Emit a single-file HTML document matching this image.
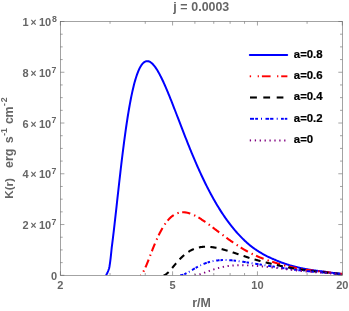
<!DOCTYPE html>
<html><head><meta charset="utf-8"><style>
html,body{margin:0;padding:0;background:#fff;}
body{width:349px;height:311px;overflow:hidden;}
svg{display:block;will-change:transform;}
svg{font-family:"Liberation Sans",sans-serif;font-weight:bold;font-size:11px;fill:#666;}
</style></head><body>
<svg width="349" height="311" viewBox="0 0 349 311">
<rect width="349" height="311" fill="#fff"/>
<defs><clipPath id="cp"><rect x="60.4" y="21.5" width="281.90000000000003" height="253.8"/></clipPath></defs>
<g clip-path="url(#cp)" fill="none" stroke-linecap="butt" stroke-linejoin="round">
<path d="M105.50 275.30 L105.98 275.11 L106.46 274.51 L107.05 273.53 L107.68 272.19 L108.35 270.50 L109.06 268.50 L109.53 266.22 L109.92 263.66 L110.29 260.86 L110.65 257.84 L111.01 254.63 L111.36 251.23 L111.72 247.67 L112.20 243.97 L112.68 240.14 L113.16 236.21 L113.64 232.18 L114.11 228.07 L114.59 223.90 L115.07 219.67 L115.55 215.40 L116.03 211.11 L116.51 206.79 L116.99 202.47 L117.46 198.14 L117.94 193.83 L118.42 189.53 L118.90 185.25 L119.38 181.01 L119.86 176.80 L120.34 172.63 L120.81 168.51 L121.29 164.45 L121.77 160.44 L122.25 156.50 L122.73 152.61 L123.21 148.80 L123.69 145.06 L124.16 141.39 L124.64 137.80 L125.12 134.29 L125.60 130.86 L126.08 127.51 L126.56 124.25 L127.04 121.07 L127.51 117.98 L127.99 114.97 L128.47 112.05 L128.95 109.22 L129.43 106.48 L129.91 103.82 L130.39 101.26 L130.86 98.78 L131.34 96.39 L131.82 94.09 L132.30 91.87 L132.78 89.74 L133.26 87.70 L133.73 85.74 L134.21 83.87 L134.69 82.08 L135.17 80.37 L135.65 78.75 L136.13 77.20 L136.61 75.74 L137.08 74.35 L137.56 73.04 L138.04 71.81 L138.52 70.65 L139.00 69.56 L139.48 68.55 L139.96 67.61 L140.43 66.74 L140.91 65.94 L141.39 65.20 L141.87 64.53 L142.35 63.93 L142.83 63.39 L143.31 62.91 L143.78 62.49 L144.26 62.13 L144.74 61.82 L145.22 61.58 L145.70 61.39 L146.18 61.25 L146.66 61.16 L147.13 61.13 L147.61 61.15 L148.09 61.21 L148.57 61.32 L149.05 61.48 L149.53 61.69 L150.01 61.93 L150.48 62.22 L150.96 62.55 L151.44 62.92 L151.92 63.33 L152.40 63.78 L152.88 64.26 L153.36 64.78 L153.83 65.33 L154.31 65.91 L154.79 66.53 L155.27 67.18 L155.75 67.86 L156.23 68.57 L156.71 69.30 L157.18 70.07 L157.66 70.85 L158.14 71.67 L158.62 72.51 L159.10 73.37 L159.58 74.25 L160.06 75.16 L160.53 76.08 L161.01 77.03 L161.49 78.00 L161.97 78.98 L162.45 79.98 L162.93 81.00 L163.41 82.03 L163.88 83.08 L164.36 84.15 L164.84 85.22 L165.32 86.32 L165.80 87.42 L166.28 88.54 L166.76 89.66 L167.23 90.80 L167.71 91.95 L168.19 93.10 L168.67 94.27 L169.15 95.45 L169.63 96.63 L170.11 97.82 L170.58 99.01 L171.06 100.22 L171.54 101.43 L172.02 102.64 L172.50 103.86 L172.98 105.08 L173.46 106.31 L173.93 107.54 L174.41 108.78 L174.89 110.01 L175.37 111.25 L175.85 112.50 L176.33 113.74 L176.81 114.99 L177.28 116.23 L177.76 117.48 L178.24 118.72 L178.72 119.97 L179.20 121.22 L179.68 122.46 L180.15 123.71 L180.63 124.95 L181.11 126.20 L181.59 127.44 L182.07 128.68 L182.55 129.92 L183.03 131.15 L183.50 132.38 L183.98 133.61 L184.46 134.84 L184.94 136.06 L185.42 137.28 L185.90 138.50 L186.38 139.71 L186.85 140.92 L187.33 142.12 L187.81 143.32 L188.29 144.52 L188.77 145.71 L189.25 146.90 L189.73 148.08 L190.20 149.26 L190.68 150.43 L191.16 151.59 L191.64 152.76 L192.12 153.91 L192.60 155.06 L193.08 156.20 L193.55 157.34 L194.03 158.48 L194.51 159.60 L194.99 160.72 L195.47 161.84 L195.95 162.94 L196.43 164.05 L196.90 165.14 L197.38 166.23 L197.86 167.31 L198.34 168.39 L198.82 169.46 L199.30 170.52 L199.78 171.58 L200.25 172.63 L200.73 173.67 L201.21 174.71 L201.69 175.73 L202.17 176.76 L202.65 177.77 L203.13 178.78 L203.60 179.78 L204.08 180.78 L204.56 181.76 L205.04 182.74 L205.52 183.72 L206.00 184.68 L206.48 185.64 L206.95 186.59 L207.43 187.54 L207.91 188.47 L208.39 189.40 L208.87 190.33 L209.35 191.24 L209.83 192.15 L210.30 193.06 L210.78 193.95 L211.26 194.84 L211.74 195.72 L212.22 196.59 L212.70 197.46 L213.18 198.32 L213.65 199.17 L214.13 200.02 L214.61 200.85 L215.09 201.69 L215.57 202.51 L216.05 203.33 L216.53 204.14 L217.00 204.94 L217.48 205.74 L217.96 206.53 L218.44 207.31 L218.92 208.09 L219.40 208.86 L219.88 209.62 L220.35 210.37 L220.83 211.12 L221.31 211.87 L221.79 212.60 L222.27 213.33 L222.75 214.05 L223.23 214.77 L223.70 215.48 L224.18 216.18 L224.66 216.87 L225.14 217.56 L225.62 218.25 L226.10 218.92 L226.57 219.59 L227.05 220.26 L227.53 220.92 L228.01 221.57 L228.49 222.21 L228.97 222.85 L229.45 223.48 L229.92 224.11 L230.40 224.73 L230.88 225.35 L231.36 225.95 L231.84 226.56 L232.32 227.15 L232.80 227.74 L233.27 228.33 L233.75 228.91 L234.23 229.48 L234.71 230.05 L235.19 230.61 L235.67 231.17 L236.15 231.72 L236.62 232.26 L237.10 232.80 L237.58 233.34 L238.06 233.86 L238.54 234.39 L239.02 234.90 L239.50 235.42 L239.97 235.92 L240.45 236.42 L240.93 236.92 L241.41 237.41 L241.89 237.90 L242.37 238.38 L242.85 238.85 L243.32 239.32 L243.80 239.79 L244.28 240.25 L244.76 240.71 L245.24 241.16 L245.72 241.60 L246.20 242.04 L246.67 242.48 L247.15 242.91 L247.63 243.34 L248.11 243.76 L248.59 244.18 L249.07 244.59 L249.55 245.00 L250.02 245.40 L250.50 245.78 L250.98 246.15 L251.46 246.51 L251.94 246.87 L252.42 247.23 L252.90 247.58 L253.37 247.93 L253.85 248.27 L254.33 248.61 L254.81 248.95 L255.29 249.28 L255.77 249.61 L256.25 249.93 L256.72 250.25 L257.20 250.57 L257.68 250.88 L258.16 251.19 L258.64 251.49 L259.12 251.79 L259.60 252.09 L260.07 252.38 L260.55 252.67 L261.03 252.95 L261.51 253.23 L261.99 253.51 L262.47 253.79 L262.95 254.06 L263.42 254.32 L263.90 254.59 L264.38 254.85 L264.86 255.10 L265.34 255.36 L265.82 255.61 L266.30 255.85 L266.77 256.10 L267.25 256.34 L267.73 256.57 L268.21 256.81 L268.69 257.04 L269.17 257.26 L269.65 257.49 L270.12 257.71 L270.60 257.93 L271.08 258.14 L271.56 258.36 L272.04 258.56 L272.52 258.77 L273.00 258.97 L273.47 259.17 L273.95 259.37 L274.43 259.57 L274.91 259.76 L275.39 259.97 L275.87 260.18 L276.34 260.39 L276.82 260.59 L277.30 260.80 L277.78 261.00 L278.26 261.20 L278.74 261.39 L279.22 261.58 L279.69 261.77 L280.17 261.96 L280.65 262.15 L281.13 262.33 L281.61 262.51 L282.09 262.69 L282.57 262.87 L283.04 263.04 L283.52 263.21 L284.00 263.38 L284.48 263.55 L284.96 263.71 L285.44 263.87 L285.92 264.03 L286.39 264.19 L286.87 264.35 L287.35 264.50 L287.83 264.65 L288.31 264.80 L288.79 264.95 L289.27 265.09 L289.74 265.24 L290.22 265.38 L290.70 265.52 L291.18 265.66 L291.66 265.79 L292.14 265.93 L292.62 266.06 L293.09 266.19 L293.57 266.32 L294.05 266.44 L294.53 266.57 L295.01 266.69 L295.49 266.81 L295.97 266.93 L296.44 267.05 L296.92 267.17 L297.40 267.28 L297.88 267.39 L298.36 267.50 L298.84 267.61 L299.32 267.72 L299.79 267.83 L300.27 267.93 L300.75 268.04 L301.23 268.14 L301.71 268.24 L302.19 268.34 L302.67 268.43 L303.14 268.53 L303.62 268.63 L304.10 268.72 L304.58 268.81 L305.06 268.90 L305.54 268.99 L306.02 269.08 L306.49 269.16 L306.97 269.25 L307.45 269.33 L307.93 269.41 L308.41 269.50 L308.89 269.58 L309.37 269.65 L309.84 269.73 L310.32 269.81 L310.80 269.88 L311.28 269.96 L311.76 270.03 L312.24 270.10 L312.72 270.17 L313.19 270.24 L313.67 270.31 L314.15 270.38 L314.63 270.44 L315.11 270.51 L315.59 270.57 L316.07 270.64 L316.54 270.70 L317.02 270.76 L317.50 270.82 L317.98 270.88 L318.46 270.94 L318.94 271.00 L319.42 271.05 L319.89 271.11 L320.37 271.16 L320.85 271.22 L321.33 271.27 L321.81 271.32 L322.29 271.37 L322.76 271.42 L323.24 271.49 L323.72 271.56 L324.20 271.64 L324.68 271.71 L325.16 271.79 L325.64 271.86 L326.11 271.93 L326.59 272.01 L327.07 272.08 L327.55 272.15 L328.03 272.22 L328.51 272.29 L328.99 272.36 L329.46 272.42 L329.94 272.49 L330.42 272.56 L330.90 272.62 L331.38 272.69 L331.86 272.75 L332.34 272.82 L332.81 272.88 L333.29 272.94 L333.77 273.01 L334.25 273.07 L334.73 273.13 L335.21 273.19 L335.69 273.25 L336.16 273.31 L336.64 273.37 L337.12 273.42 L337.60 273.48 L338.08 273.54 L338.56 273.60 L339.04 273.65 L339.51 273.71 L339.99 273.76 L340.47 273.82 L340.95 273.87 L341.43 273.92 L341.91 273.96 L342.39 273.99 L342.86 274.01 L343.34 274.04 L343.82 274.06 L344.30 274.08" stroke="#0000ff" stroke-width="2"/>
<path d="M140.30 275.30 L140.71 275.17 L141.12 274.89 L141.53 274.49 L141.94 274.00 L142.34 273.44 L142.75 272.80 L143.16 272.11 L143.57 271.36 L143.98 270.56 L144.39 269.73 L144.80 268.86 L145.21 267.95 L145.61 267.02 L146.02 266.07 L146.43 265.09 L146.84 264.10 L147.25 263.09 L147.66 262.06 L148.07 261.03 L148.48 259.99 L148.89 258.94 L149.29 257.88 L149.70 256.83 L150.11 255.77 L150.52 254.72 L150.93 253.66 L151.34 252.61 L151.75 251.56 L152.16 250.52 L152.56 249.49 L152.97 248.46 L153.38 247.44 L153.79 246.43 L154.20 245.43 L154.61 244.44 L155.02 243.46 L155.43 242.49 L155.84 241.54 L156.24 240.59 L156.65 239.66 L157.06 238.75 L157.47 237.85 L157.88 236.96 L158.29 236.09 L158.70 235.24 L159.11 234.40 L159.51 233.57 L159.92 232.76 L160.33 231.97 L160.74 231.20 L161.15 230.44 L161.56 229.69 L161.97 228.97 L162.38 228.26 L162.79 227.56 L163.19 226.89 L163.60 226.23 L164.01 225.58 L164.42 224.96 L164.83 224.35 L165.24 223.75 L165.65 223.18 L166.06 222.62 L166.46 222.07 L166.87 221.54 L167.28 221.03 L167.69 220.54 L168.10 220.06 L168.51 219.60 L168.92 219.15 L169.33 218.72 L169.73 218.30 L170.14 217.90 L170.55 217.52 L170.96 217.15 L171.37 216.80 L171.78 216.46 L172.19 216.13 L172.60 215.82 L173.01 215.53 L173.41 215.24 L173.82 214.98 L174.23 214.72 L174.64 214.48 L175.05 214.25 L175.46 214.04 L175.87 213.84 L176.28 213.65 L176.68 213.48 L177.09 213.31 L177.50 213.16 L177.91 213.02 L178.32 212.90 L178.73 212.78 L179.14 212.68 L179.55 212.59 L179.96 212.51 L180.36 212.44 L180.77 212.38 L181.18 212.33 L181.59 212.29 L182.00 212.26 L182.41 212.25 L182.82 212.24 L183.23 212.24 L183.63 212.25 L184.04 212.27 L184.45 212.30 L184.86 212.34 L185.27 212.38 L185.68 212.44 L186.09 212.50 L186.50 212.58 L186.91 212.66 L187.31 212.74 L187.72 212.84 L188.13 212.94 L188.54 213.05 L188.95 213.17 L189.36 213.29 L189.77 213.42 L190.18 213.56 L190.58 213.70 L190.99 213.85 L191.40 214.01 L191.81 214.17 L192.22 214.34 L192.63 214.52 L193.04 214.70 L193.45 214.88 L193.86 215.07 L194.26 215.27 L194.67 215.47 L195.08 215.67 L195.49 215.88 L195.90 216.10 L196.31 216.32 L196.72 216.54 L197.13 216.77 L197.53 217.00 L197.94 217.23 L198.35 217.47 L198.76 217.71 L199.17 217.96 L199.58 218.21 L199.99 218.46 L200.40 218.72 L200.81 218.98 L201.21 219.24 L201.62 219.51 L202.03 219.78 L202.44 220.05 L202.85 220.32 L203.26 220.60 L203.67 220.87 L204.08 221.16 L204.48 221.44 L204.89 221.72 L205.30 222.01 L205.71 222.30 L206.12 222.59 L206.53 222.88 L206.94 223.17 L207.35 223.47 L207.75 223.77 L208.16 224.06 L208.57 224.36 L208.98 224.67 L209.39 224.97 L209.80 225.27 L210.21 225.57 L210.62 225.88 L211.03 226.18 L211.43 226.49 L211.84 226.80 L212.25 227.11 L212.66 227.41 L213.07 227.72 L213.48 228.03 L213.89 228.34 L214.30 228.65 L214.70 228.96 L215.11 229.27 L215.52 229.58 L215.93 229.90 L216.34 230.21 L216.75 230.52 L217.16 230.83 L217.57 231.14 L217.98 231.45 L218.38 231.76 L218.79 232.07 L219.20 232.38 L219.61 232.69 L220.02 233.00 L220.43 233.31 L220.84 233.62 L221.25 233.93 L221.65 234.23 L222.06 234.54 L222.47 234.85 L222.88 235.15 L223.29 235.46 L223.70 235.76 L224.11 236.07 L224.52 236.37 L224.93 236.67 L225.33 236.97 L225.74 237.27 L226.15 237.57 L226.56 237.87 L226.97 238.17 L227.38 238.46 L227.79 238.76 L228.20 239.05 L228.60 239.35 L229.01 239.64 L229.42 239.93 L229.83 240.22 L230.24 240.51 L230.65 240.80 L231.06 241.09 L231.47 241.37 L231.88 241.66 L232.28 241.94 L232.69 242.22 L233.10 242.50 L233.51 242.78 L233.92 243.06 L234.33 243.34 L234.74 243.61 L235.15 243.89 L235.55 244.16 L235.96 244.43 L236.37 244.70 L236.78 244.97 L237.19 245.24 L237.60 245.50 L238.01 245.77 L238.42 246.03 L238.83 246.29 L239.23 246.55 L239.64 246.81 L240.05 247.07 L240.46 247.32 L240.87 247.58 L241.28 247.83 L241.69 248.08 L242.10 248.33 L242.50 248.58 L242.91 248.83 L243.32 249.07 L243.73 249.31 L244.14 249.56 L244.55 249.80 L244.96 250.04 L245.37 250.27 L245.77 250.51 L246.18 250.74 L246.59 250.98 L247.00 251.21 L247.41 251.44 L247.82 251.67 L248.23 251.89 L248.64 252.12 L249.05 252.34 L249.45 252.57 L249.86 252.79 L250.27 253.00 L250.68 253.20 L251.09 253.40 L251.50 253.60 L251.91 253.80 L252.32 253.99 L252.72 254.19 L253.13 254.38 L253.54 254.58 L253.95 254.77 L254.36 254.96 L254.77 255.14 L255.18 255.33 L255.59 255.51 L256.00 255.70 L256.40 255.88 L256.81 256.06 L257.22 256.24 L257.63 256.41 L258.04 256.59 L258.45 256.76 L258.86 256.94 L259.27 257.11 L259.67 257.28 L260.08 257.44 L260.49 257.61 L260.90 257.78 L261.31 257.94 L261.72 258.10 L262.13 258.26 L262.54 258.42 L262.95 258.58 L263.35 258.74 L263.76 258.89 L264.17 259.05 L264.58 259.20 L264.99 259.35 L265.40 259.50 L265.81 259.65 L266.22 259.79 L266.62 259.94 L267.03 260.08 L267.44 260.23 L267.85 260.37 L268.26 260.51 L268.67 260.65 L269.08 260.78 L269.49 260.92 L269.90 261.05 L270.30 261.19 L270.71 261.32 L271.12 261.45 L271.53 261.58 L271.94 261.71 L272.35 261.83 L272.76 261.96 L273.17 262.08 L273.57 262.21 L273.98 262.33 L274.39 262.45 L274.80 262.57 L275.21 262.69 L275.62 262.82 L276.03 262.95 L276.44 263.08 L276.85 263.21 L277.25 263.34 L277.66 263.46 L278.07 263.59 L278.48 263.71 L278.89 263.83 L279.30 263.95 L279.71 264.07 L280.12 264.19 L280.52 264.31 L280.93 264.43 L281.34 264.54 L281.75 264.66 L282.16 264.77 L282.57 264.88 L282.98 264.99 L283.39 265.10 L283.80 265.21 L284.20 265.32 L284.61 265.42 L285.02 265.53 L285.43 265.63 L285.84 265.74 L286.25 265.84 L286.66 265.94 L287.07 266.04 L287.47 266.14 L287.88 266.24 L288.29 266.34 L288.70 266.43 L289.11 266.53 L289.52 266.62 L289.93 266.72 L290.34 266.81 L290.74 266.90 L291.15 266.99 L291.56 267.08 L291.97 267.17 L292.38 267.26 L292.79 267.35 L293.20 267.43 L293.61 267.52 L294.02 267.60 L294.42 267.68 L294.83 267.77 L295.24 267.85 L295.65 267.93 L296.06 268.01 L296.47 268.09 L296.88 268.17 L297.29 268.24 L297.69 268.32 L298.10 268.40 L298.51 268.47 L298.92 268.55 L299.33 268.62 L299.74 268.69 L300.15 268.76 L300.56 268.84 L300.97 268.91 L301.37 268.98 L301.78 269.04 L302.19 269.11 L302.60 269.18 L303.01 269.25 L303.42 269.31 L303.83 269.38 L304.24 269.44 L304.64 269.51 L305.05 269.57 L305.46 269.63 L305.87 269.69 L306.28 269.75 L306.69 269.81 L307.10 269.87 L307.51 269.93 L307.92 269.99 L308.32 270.05 L308.73 270.10 L309.14 270.16 L309.55 270.22 L309.96 270.27 L310.37 270.33 L310.78 270.38 L311.19 270.43 L311.59 270.49 L312.00 270.54 L312.41 270.59 L312.82 270.64 L313.23 270.69 L313.64 270.74 L314.05 270.79 L314.46 270.84 L314.87 270.88 L315.27 270.93 L315.68 270.98 L316.09 271.03 L316.50 271.07 L316.91 271.12 L317.32 271.16 L317.73 271.20 L318.14 271.25 L318.54 271.29 L318.95 271.33 L319.36 271.38 L319.77 271.42 L320.18 271.46 L320.59 271.50 L321.00 271.54 L321.41 271.58 L321.82 271.62 L322.22 271.66 L322.63 271.69 L323.04 271.73 L323.45 271.79 L323.86 271.84 L324.27 271.89 L324.68 271.95 L325.09 272.00 L325.49 272.05 L325.90 272.10 L326.31 272.15 L326.72 272.20 L327.13 272.25 L327.54 272.30 L327.95 272.35 L328.36 272.40 L328.76 272.45 L329.17 272.50 L329.58 272.55 L329.99 272.59 L330.40 272.64 L330.81 272.69 L331.22 272.73 L331.63 272.78 L332.04 272.82 L332.44 272.87 L332.85 272.91 L333.26 272.96 L333.67 273.00 L334.08 273.04 L334.49 273.09 L334.90 273.13 L335.31 273.17 L335.71 273.22 L336.12 273.26 L336.53 273.30 L336.94 273.34 L337.35 273.38 L337.76 273.42 L338.17 273.46 L338.58 273.50 L338.99 273.54 L339.39 273.58 L339.80 273.62 L340.21 273.66 L340.62 273.70 L341.03 273.74 L341.44 273.77 L341.85 273.81 L342.26 273.83 L342.66 273.85 L343.07 273.87 L343.48 273.89 L343.89 273.91 L344.30 273.93" stroke="#ff0000" stroke-width="2.1" stroke-dasharray="1.4 3.5 8.3 4.1" stroke-dashoffset="12.5"/>
<path d="M163.50 275.30 L163.86 275.27 L164.22 275.18 L164.59 275.06 L164.95 274.90 L165.31 274.71 L165.67 274.49 L166.04 274.25 L166.40 273.98 L166.76 273.69 L167.12 273.39 L167.49 273.07 L167.85 272.73 L168.21 272.38 L168.57 272.02 L168.93 271.64 L169.30 271.26 L169.66 270.87 L170.02 270.46 L170.38 270.06 L170.75 269.64 L171.11 269.23 L171.47 268.80 L171.83 268.38 L172.20 267.95 L172.56 267.52 L172.92 267.09 L173.28 266.66 L173.65 266.22 L174.01 265.79 L174.37 265.36 L174.73 264.93 L175.09 264.50 L175.46 264.07 L175.82 263.64 L176.18 263.22 L176.54 262.80 L176.91 262.39 L177.27 261.97 L177.63 261.56 L177.99 261.16 L178.36 260.76 L178.72 260.36 L179.08 259.97 L179.44 259.59 L179.80 259.20 L180.17 258.83 L180.53 258.46 L180.89 258.09 L181.25 257.73 L181.62 257.38 L181.98 257.03 L182.34 256.69 L182.70 256.35 L183.07 256.02 L183.43 255.70 L183.79 255.38 L184.15 255.07 L184.51 254.76 L184.88 254.46 L185.24 254.17 L185.60 253.88 L185.96 253.60 L186.33 253.32 L186.69 253.06 L187.05 252.79 L187.41 252.54 L187.78 252.29 L188.14 252.04 L188.50 251.81 L188.86 251.57 L189.23 251.35 L189.59 251.13 L189.95 250.92 L190.31 250.71 L190.67 250.51 L191.04 250.31 L191.40 250.13 L191.76 249.94 L192.12 249.77 L192.49 249.59 L192.85 249.43 L193.21 249.27 L193.57 249.11 L193.94 248.96 L194.30 248.82 L194.66 248.68 L195.02 248.55 L195.38 248.42 L195.75 248.30 L196.11 248.18 L196.47 248.07 L196.83 247.96 L197.20 247.86 L197.56 247.76 L197.92 247.67 L198.28 247.58 L198.65 247.50 L199.01 247.42 L199.37 247.35 L199.73 247.28 L200.09 247.21 L200.46 247.15 L200.82 247.10 L201.18 247.04 L201.54 247.00 L201.91 246.95 L202.27 246.91 L202.63 246.88 L202.99 246.85 L203.36 246.82 L203.72 246.80 L204.08 246.78 L204.44 246.76 L204.81 246.75 L205.17 246.74 L205.53 246.73 L205.89 246.73 L206.25 246.73 L206.62 246.73 L206.98 246.74 L207.34 246.75 L207.70 246.76 L208.07 246.78 L208.43 246.80 L208.79 246.82 L209.15 246.85 L209.52 246.88 L209.88 246.91 L210.24 246.94 L210.60 246.98 L210.96 247.02 L211.33 247.06 L211.69 247.10 L212.05 247.15 L212.41 247.20 L212.78 247.25 L213.14 247.30 L213.50 247.36 L213.86 247.41 L214.23 247.47 L214.59 247.54 L214.95 247.60 L215.31 247.66 L215.67 247.73 L216.04 247.80 L216.40 247.87 L216.76 247.95 L217.12 248.02 L217.49 248.10 L217.85 248.18 L218.21 248.26 L218.57 248.34 L218.94 248.42 L219.30 248.51 L219.66 248.59 L220.02 248.68 L220.39 248.77 L220.75 248.86 L221.11 248.95 L221.47 249.05 L221.83 249.14 L222.20 249.24 L222.56 249.33 L222.92 249.43 L223.28 249.53 L223.65 249.63 L224.01 249.73 L224.37 249.83 L224.73 249.93 L225.10 250.04 L225.46 250.14 L225.82 250.25 L226.18 250.36 L226.54 250.46 L226.91 250.57 L227.27 250.68 L227.63 250.79 L227.99 250.90 L228.36 251.01 L228.72 251.12 L229.08 251.24 L229.44 251.35 L229.81 251.46 L230.17 251.58 L230.53 251.69 L230.89 251.81 L231.25 251.92 L231.62 252.04 L231.98 252.15 L232.34 252.27 L232.70 252.39 L233.07 252.51 L233.43 252.62 L233.79 252.74 L234.15 252.86 L234.52 252.98 L234.88 253.10 L235.24 253.22 L235.60 253.34 L235.96 253.46 L236.33 253.58 L236.69 253.70 L237.05 253.82 L237.41 253.94 L237.78 254.06 L238.14 254.18 L238.50 254.30 L238.86 254.42 L239.23 254.55 L239.59 254.67 L239.95 254.79 L240.31 254.91 L240.68 255.03 L241.04 255.15 L241.40 255.27 L241.76 255.39 L242.12 255.52 L242.49 255.64 L242.85 255.76 L243.21 255.88 L243.57 256.00 L243.94 256.12 L244.30 256.24 L244.66 256.36 L245.02 256.48 L245.39 256.60 L245.75 256.72 L246.11 256.84 L246.47 256.96 L246.83 257.08 L247.20 257.20 L247.56 257.32 L247.92 257.44 L248.28 257.56 L248.65 257.68 L249.01 257.80 L249.37 257.91 L249.73 258.03 L250.10 258.15 L250.46 258.25 L250.82 258.36 L251.18 258.47 L251.54 258.57 L251.91 258.68 L252.27 258.78 L252.63 258.89 L252.99 258.99 L253.36 259.10 L253.72 259.20 L254.08 259.31 L254.44 259.41 L254.81 259.51 L255.17 259.62 L255.53 259.72 L255.89 259.82 L256.26 259.92 L256.62 260.02 L256.98 260.12 L257.34 260.23 L257.70 260.33 L258.07 260.43 L258.43 260.52 L258.79 260.62 L259.15 260.72 L259.52 260.82 L259.88 260.92 L260.24 261.02 L260.60 261.11 L260.97 261.21 L261.33 261.30 L261.69 261.40 L262.05 261.49 L262.41 261.59 L262.78 261.68 L263.14 261.78 L263.50 261.87 L263.86 261.96 L264.23 262.06 L264.59 262.15 L264.95 262.24 L265.31 262.33 L265.68 262.42 L266.04 262.51 L266.40 262.60 L266.76 262.69 L267.12 262.78 L267.49 262.87 L267.85 262.95 L268.21 263.04 L268.57 263.13 L268.94 263.21 L269.30 263.30 L269.66 263.38 L270.02 263.47 L270.39 263.55 L270.75 263.64 L271.11 263.72 L271.47 263.80 L271.84 263.89 L272.20 263.97 L272.56 264.05 L272.92 264.13 L273.28 264.21 L273.65 264.29 L274.01 264.37 L274.37 264.45 L274.73 264.53 L275.10 264.61 L275.46 264.69 L275.82 264.78 L276.18 264.87 L276.55 264.95 L276.91 265.04 L277.27 265.12 L277.63 265.21 L277.99 265.29 L278.36 265.38 L278.72 265.46 L279.08 265.54 L279.44 265.62 L279.81 265.70 L280.17 265.78 L280.53 265.87 L280.89 265.95 L281.26 266.02 L281.62 266.10 L281.98 266.18 L282.34 266.26 L282.70 266.34 L283.07 266.41 L283.43 266.49 L283.79 266.57 L284.15 266.64 L284.52 266.72 L284.88 266.79 L285.24 266.87 L285.60 266.94 L285.97 267.01 L286.33 267.08 L286.69 267.16 L287.05 267.23 L287.42 267.30 L287.78 267.37 L288.14 267.44 L288.50 267.51 L288.86 267.58 L289.23 267.65 L289.59 267.71 L289.95 267.78 L290.31 267.85 L290.68 267.92 L291.04 267.98 L291.40 268.05 L291.76 268.11 L292.13 268.18 L292.49 268.24 L292.85 268.31 L293.21 268.37 L293.57 268.43 L293.94 268.50 L294.30 268.56 L294.66 268.62 L295.02 268.68 L295.39 268.74 L295.75 268.80 L296.11 268.86 L296.47 268.92 L296.84 268.98 L297.20 269.04 L297.56 269.10 L297.92 269.15 L298.28 269.21 L298.65 269.27 L299.01 269.32 L299.37 269.38 L299.73 269.43 L300.10 269.49 L300.46 269.54 L300.82 269.60 L301.18 269.65 L301.55 269.70 L301.91 269.76 L302.27 269.81 L302.63 269.86 L303.00 269.91 L303.36 269.96 L303.72 270.01 L304.08 270.06 L304.44 270.11 L304.81 270.16 L305.17 270.21 L305.53 270.26 L305.89 270.31 L306.26 270.36 L306.62 270.40 L306.98 270.45 L307.34 270.50 L307.71 270.54 L308.07 270.59 L308.43 270.63 L308.79 270.68 L309.15 270.72 L309.52 270.77 L309.88 270.81 L310.24 270.85 L310.60 270.90 L310.97 270.94 L311.33 270.98 L311.69 271.02 L312.05 271.07 L312.42 271.11 L312.78 271.15 L313.14 271.19 L313.50 271.23 L313.86 271.27 L314.23 271.31 L314.59 271.35 L314.95 271.38 L315.31 271.42 L315.68 271.46 L316.04 271.50 L316.40 271.53 L316.76 271.57 L317.13 271.61 L317.49 271.64 L317.85 271.68 L318.21 271.72 L318.57 271.75 L318.94 271.79 L319.30 271.82 L319.66 271.85 L320.02 271.89 L320.39 271.92 L320.75 271.95 L321.11 271.99 L321.47 272.02 L321.84 272.05 L322.20 272.08 L322.56 272.12 L322.92 272.15 L323.29 272.19 L323.65 272.23 L324.01 272.27 L324.37 272.31 L324.73 272.35 L325.10 272.39 L325.46 272.43 L325.82 272.48 L326.18 272.52 L326.55 272.55 L326.91 272.59 L327.27 272.63 L327.63 272.67 L328.00 272.71 L328.36 272.75 L328.72 272.79 L329.08 272.83 L329.44 272.86 L329.81 272.90 L330.17 272.94 L330.53 272.97 L330.89 273.01 L331.26 273.05 L331.62 273.08 L331.98 273.12 L332.34 273.15 L332.71 273.19 L333.07 273.22 L333.43 273.26 L333.79 273.29 L334.15 273.33 L334.52 273.36 L334.88 273.39 L335.24 273.43 L335.60 273.46 L335.97 273.49 L336.33 273.53 L336.69 273.56 L337.05 273.59 L337.42 273.62 L337.78 273.65 L338.14 273.68 L338.50 273.72 L338.87 273.75 L339.23 273.78 L339.59 273.81 L339.95 273.84 L340.31 273.87 L340.68 273.90 L341.04 273.93 L341.40 273.96 L341.76 273.98 L342.13 274.00 L342.49 274.02 L342.85 274.04 L343.21 274.05 L343.58 274.07 L343.94 274.09 L344.30 274.10" stroke="#000" stroke-width="2.1" stroke-dasharray="6.2 5.3"/>
<path d="M180.10 275.30 L180.43 275.29 L180.76 275.26 L181.09 275.22 L181.42 275.16 L181.75 275.10 L182.07 275.02 L182.40 274.93 L182.73 274.83 L183.06 274.72 L183.39 274.60 L183.72 274.48 L184.05 274.35 L184.38 274.21 L184.71 274.06 L185.04 273.91 L185.37 273.76 L185.69 273.60 L186.02 273.43 L186.35 273.27 L186.68 273.09 L187.01 272.92 L187.34 272.74 L187.67 272.56 L188.00 272.37 L188.33 272.19 L188.66 272.00 L188.98 271.81 L189.31 271.62 L189.64 271.42 L189.97 271.23 L190.30 271.03 L190.63 270.84 L190.96 270.64 L191.29 270.45 L191.62 270.25 L191.95 270.05 L192.28 269.86 L192.60 269.66 L192.93 269.47 L193.26 269.27 L193.59 269.08 L193.92 268.88 L194.25 268.69 L194.58 268.50 L194.91 268.31 L195.24 268.12 L195.57 267.94 L195.89 267.75 L196.22 267.57 L196.55 267.38 L196.88 267.20 L197.21 267.02 L197.54 266.85 L197.87 266.67 L198.20 266.50 L198.53 266.33 L198.86 266.16 L199.19 265.99 L199.51 265.83 L199.84 265.66 L200.17 265.50 L200.50 265.34 L200.83 265.19 L201.16 265.03 L201.49 264.88 L201.82 264.73 L202.15 264.59 L202.48 264.44 L202.81 264.30 L203.13 264.16 L203.46 264.03 L203.79 263.89 L204.12 263.76 L204.45 263.63 L204.78 263.50 L205.11 263.38 L205.44 263.26 L205.77 263.14 L206.10 263.02 L206.42 262.91 L206.75 262.79 L207.08 262.68 L207.41 262.58 L207.74 262.47 L208.07 262.37 L208.40 262.27 L208.73 262.17 L209.06 262.08 L209.39 261.99 L209.72 261.90 L210.04 261.81 L210.37 261.72 L210.70 261.64 L211.03 261.56 L211.36 261.48 L211.69 261.41 L212.02 261.33 L212.35 261.26 L212.68 261.19 L213.01 261.13 L213.33 261.06 L213.66 261.00 L213.99 260.94 L214.32 260.88 L214.65 260.83 L214.98 260.77 L215.31 260.72 L215.64 260.67 L215.97 260.63 L216.30 260.58 L216.63 260.54 L216.95 260.50 L217.28 260.46 L217.61 260.42 L217.94 260.39 L218.27 260.35 L218.60 260.32 L218.93 260.29 L219.26 260.26 L219.59 260.24 L219.92 260.21 L220.25 260.19 L220.57 260.17 L220.90 260.15 L221.23 260.14 L221.56 260.12 L221.89 260.11 L222.22 260.09 L222.55 260.08 L222.88 260.08 L223.21 260.07 L223.54 260.06 L223.86 260.06 L224.19 260.06 L224.52 260.06 L224.85 260.06 L225.18 260.06 L225.51 260.06 L225.84 260.07 L226.17 260.07 L226.50 260.08 L226.83 260.09 L227.16 260.10 L227.48 260.11 L227.81 260.12 L228.14 260.14 L228.47 260.15 L228.80 260.17 L229.13 260.18 L229.46 260.20 L229.79 260.22 L230.12 260.24 L230.45 260.27 L230.78 260.29 L231.10 260.31 L231.43 260.34 L231.76 260.36 L232.09 260.39 L232.42 260.42 L232.75 260.45 L233.08 260.48 L233.41 260.51 L233.74 260.54 L234.07 260.57 L234.39 260.61 L234.72 260.64 L235.05 260.68 L235.38 260.71 L235.71 260.75 L236.04 260.79 L236.37 260.83 L236.70 260.87 L237.03 260.91 L237.36 260.95 L237.69 260.99 L238.01 261.03 L238.34 261.07 L238.67 261.12 L239.00 261.16 L239.33 261.21 L239.66 261.25 L239.99 261.30 L240.32 261.34 L240.65 261.39 L240.98 261.44 L241.30 261.49 L241.63 261.54 L241.96 261.59 L242.29 261.63 L242.62 261.69 L242.95 261.74 L243.28 261.79 L243.61 261.84 L243.94 261.89 L244.27 261.94 L244.60 262.00 L244.92 262.05 L245.25 262.10 L245.58 262.16 L245.91 262.21 L246.24 262.26 L246.57 262.32 L246.90 262.38 L247.23 262.43 L247.56 262.49 L247.89 262.54 L248.22 262.60 L248.54 262.66 L248.87 262.71 L249.20 262.77 L249.53 262.83 L249.86 262.88 L250.19 262.94 L250.52 262.99 L250.85 263.04 L251.18 263.09 L251.51 263.14 L251.83 263.19 L252.16 263.24 L252.49 263.29 L252.82 263.34 L253.15 263.40 L253.48 263.45 L253.81 263.50 L254.14 263.55 L254.47 263.60 L254.80 263.66 L255.13 263.71 L255.45 263.76 L255.78 263.81 L256.11 263.86 L256.44 263.92 L256.77 263.97 L257.10 264.02 L257.43 264.07 L257.76 264.13 L258.09 264.18 L258.42 264.23 L258.74 264.28 L259.07 264.34 L259.40 264.39 L259.73 264.44 L260.06 264.49 L260.39 264.55 L260.72 264.60 L261.05 264.65 L261.38 264.71 L261.71 264.76 L262.04 264.81 L262.36 264.86 L262.69 264.91 L263.02 264.97 L263.35 265.02 L263.68 265.07 L264.01 265.12 L264.34 265.17 L264.67 265.23 L265.00 265.28 L265.33 265.33 L265.66 265.38 L265.98 265.43 L266.31 265.48 L266.64 265.54 L266.97 265.59 L267.30 265.64 L267.63 265.69 L267.96 265.74 L268.29 265.79 L268.62 265.84 L268.95 265.89 L269.27 265.94 L269.60 265.99 L269.93 266.04 L270.26 266.09 L270.59 266.14 L270.92 266.19 L271.25 266.24 L271.58 266.29 L271.91 266.34 L272.24 266.39 L272.57 266.43 L272.89 266.48 L273.22 266.53 L273.55 266.58 L273.88 266.63 L274.21 266.68 L274.54 266.72 L274.87 266.77 L275.20 266.82 L275.53 266.88 L275.86 266.93 L276.19 266.99 L276.51 267.04 L276.84 267.10 L277.17 267.15 L277.50 267.20 L277.83 267.26 L278.16 267.31 L278.49 267.36 L278.82 267.42 L279.15 267.47 L279.48 267.52 L279.80 267.57 L280.13 267.63 L280.46 267.68 L280.79 267.73 L281.12 267.78 L281.45 267.83 L281.78 267.88 L282.11 267.93 L282.44 267.98 L282.77 268.03 L283.10 268.08 L283.42 268.13 L283.75 268.18 L284.08 268.23 L284.41 268.28 L284.74 268.33 L285.07 268.38 L285.40 268.43 L285.73 268.48 L286.06 268.52 L286.39 268.57 L286.71 268.62 L287.04 268.67 L287.37 268.71 L287.70 268.76 L288.03 268.81 L288.36 268.85 L288.69 268.90 L289.02 268.95 L289.35 268.99 L289.68 269.04 L290.01 269.08 L290.33 269.13 L290.66 269.17 L290.99 269.22 L291.32 269.26 L291.65 269.30 L291.98 269.35 L292.31 269.39 L292.64 269.44 L292.97 269.48 L293.30 269.52 L293.63 269.56 L293.95 269.61 L294.28 269.65 L294.61 269.69 L294.94 269.73 L295.27 269.77 L295.60 269.81 L295.93 269.85 L296.26 269.90 L296.59 269.94 L296.92 269.98 L297.24 270.02 L297.57 270.06 L297.90 270.10 L298.23 270.13 L298.56 270.17 L298.89 270.21 L299.22 270.25 L299.55 270.29 L299.88 270.33 L300.21 270.36 L300.54 270.40 L300.86 270.44 L301.19 270.48 L301.52 270.51 L301.85 270.55 L302.18 270.59 L302.51 270.62 L302.84 270.66 L303.17 270.69 L303.50 270.73 L303.83 270.77 L304.15 270.80 L304.48 270.84 L304.81 270.87 L305.14 270.90 L305.47 270.94 L305.80 270.97 L306.13 271.01 L306.46 271.04 L306.79 271.07 L307.12 271.11 L307.45 271.14 L307.77 271.17 L308.10 271.20 L308.43 271.24 L308.76 271.27 L309.09 271.30 L309.42 271.33 L309.75 271.36 L310.08 271.39 L310.41 271.42 L310.74 271.45 L311.07 271.48 L311.39 271.51 L311.72 271.54 L312.05 271.57 L312.38 271.60 L312.71 271.63 L313.04 271.66 L313.37 271.69 L313.70 271.72 L314.03 271.75 L314.36 271.78 L314.68 271.80 L315.01 271.83 L315.34 271.86 L315.67 271.89 L316.00 271.91 L316.33 271.94 L316.66 271.97 L316.99 271.99 L317.32 272.02 L317.65 272.05 L317.98 272.07 L318.30 272.10 L318.63 272.12 L318.96 272.15 L319.29 272.18 L319.62 272.20 L319.95 272.23 L320.28 272.25 L320.61 272.27 L320.94 272.30 L321.27 272.32 L321.60 272.35 L321.92 272.37 L322.25 272.39 L322.58 272.42 L322.91 272.44 L323.24 272.47 L323.57 272.50 L323.90 272.53 L324.23 272.56 L324.56 272.60 L324.89 272.63 L325.21 272.66 L325.54 272.69 L325.87 272.72 L326.20 272.75 L326.53 272.78 L326.86 272.81 L327.19 272.84 L327.52 272.87 L327.85 272.90 L328.18 272.93 L328.51 272.96 L328.83 272.99 L329.16 273.01 L329.49 273.04 L329.82 273.07 L330.15 273.10 L330.48 273.13 L330.81 273.16 L331.14 273.18 L331.47 273.21 L331.80 273.24 L332.12 273.27 L332.45 273.29 L332.78 273.32 L333.11 273.35 L333.44 273.37 L333.77 273.40 L334.10 273.43 L334.43 273.45 L334.76 273.48 L335.09 273.50 L335.42 273.53 L335.74 273.56 L336.07 273.58 L336.40 273.61 L336.73 273.63 L337.06 273.66 L337.39 273.68 L337.72 273.71 L338.05 273.73 L338.38 273.76 L338.71 273.78 L339.04 273.80 L339.36 273.83 L339.69 273.85 L340.02 273.88 L340.35 273.90 L340.68 273.92 L341.01 273.95 L341.34 273.97 L341.67 273.99 L342.00 274.01 L342.33 274.02 L342.65 274.04 L342.98 274.05 L343.31 274.06 L343.64 274.08 L343.97 274.09 L344.30 274.10" stroke="#0000ff" stroke-width="2" stroke-dasharray="3.4 0.9 2.5 2.7 0.8 2.8"/>
<path d="M194.60 275.30 L194.90 275.29 L195.20 275.27 L195.50 275.24 L195.80 275.21 L196.10 275.17 L196.40 275.12 L196.70 275.07 L197.00 275.01 L197.30 274.94 L197.60 274.88 L197.90 274.81 L198.20 274.73 L198.50 274.66 L198.80 274.58 L199.10 274.49 L199.40 274.41 L199.70 274.32 L200.00 274.23 L200.30 274.14 L200.60 274.04 L200.90 273.94 L201.20 273.85 L201.50 273.75 L201.80 273.65 L202.10 273.54 L202.40 273.44 L202.70 273.33 L203.00 273.23 L203.30 273.12 L203.60 273.01 L203.90 272.91 L204.20 272.80 L204.50 272.69 L204.80 272.58 L205.10 272.47 L205.40 272.36 L205.70 272.25 L206.00 272.14 L206.30 272.03 L206.60 271.92 L206.90 271.81 L207.20 271.70 L207.50 271.58 L207.80 271.47 L208.10 271.36 L208.40 271.26 L208.70 271.15 L209.00 271.04 L209.30 270.93 L209.60 270.82 L209.90 270.71 L210.20 270.61 L210.50 270.50 L210.80 270.40 L211.10 270.29 L211.40 270.19 L211.70 270.08 L212.00 269.98 L212.30 269.88 L212.60 269.78 L212.90 269.68 L213.20 269.58 L213.50 269.48 L213.80 269.38 L214.10 269.29 L214.40 269.19 L214.70 269.10 L215.00 269.00 L215.30 268.91 L215.60 268.82 L215.90 268.73 L216.20 268.64 L216.50 268.55 L216.80 268.46 L217.10 268.38 L217.40 268.29 L217.70 268.21 L218.00 268.13 L218.30 268.05 L218.60 267.96 L218.90 267.89 L219.20 267.81 L219.50 267.73 L219.80 267.65 L220.10 267.58 L220.40 267.51 L220.70 267.43 L221.00 267.36 L221.30 267.29 L221.60 267.22 L221.90 267.16 L222.20 267.09 L222.50 267.03 L222.80 266.96 L223.10 266.90 L223.40 266.84 L223.70 266.78 L224.00 266.72 L224.30 266.66 L224.60 266.60 L224.90 266.55 L225.20 266.49 L225.50 266.44 L225.80 266.39 L226.10 266.34 L226.40 266.29 L226.70 266.24 L227.00 266.19 L227.30 266.15 L227.60 266.10 L227.90 266.06 L228.20 266.02 L228.50 265.97 L228.80 265.93 L229.10 265.89 L229.40 265.86 L229.70 265.82 L230.00 265.78 L230.30 265.75 L230.60 265.72 L230.90 265.68 L231.20 265.65 L231.50 265.62 L231.80 265.59 L232.10 265.56 L232.40 265.54 L232.70 265.51 L233.00 265.49 L233.30 265.46 L233.60 265.44 L233.90 265.42 L234.20 265.40 L234.50 265.38 L234.80 265.36 L235.10 265.34 L235.40 265.32 L235.70 265.31 L236.00 265.29 L236.30 265.28 L236.60 265.26 L236.90 265.25 L237.20 265.24 L237.50 265.23 L237.80 265.22 L238.10 265.21 L238.40 265.21 L238.70 265.20 L239.00 265.19 L239.30 265.19 L239.60 265.18 L239.90 265.18 L240.20 265.18 L240.50 265.18 L240.80 265.18 L241.10 265.18 L241.40 265.18 L241.70 265.18 L242.00 265.18 L242.30 265.18 L242.60 265.19 L242.90 265.19 L243.20 265.20 L243.50 265.20 L243.80 265.21 L244.10 265.22 L244.40 265.23 L244.70 265.24 L245.00 265.25 L245.30 265.26 L245.60 265.27 L245.90 265.28 L246.20 265.29 L246.50 265.30 L246.80 265.32 L247.10 265.33 L247.40 265.35 L247.70 265.36 L248.00 265.38 L248.30 265.39 L248.60 265.41 L248.90 265.43 L249.20 265.45 L249.50 265.47 L249.80 265.49 L250.10 265.50 L250.40 265.52 L250.70 265.53 L251.00 265.55 L251.30 265.56 L251.60 265.58 L251.90 265.60 L252.20 265.62 L252.50 265.63 L252.80 265.65 L253.10 265.67 L253.40 265.69 L253.70 265.71 L254.00 265.73 L254.30 265.75 L254.60 265.77 L254.90 265.79 L255.20 265.81 L255.50 265.84 L255.80 265.86 L256.10 265.88 L256.40 265.91 L256.70 265.93 L257.00 265.95 L257.30 265.98 L257.60 266.00 L257.90 266.03 L258.20 266.05 L258.50 266.08 L258.80 266.10 L259.10 266.13 L259.40 266.16 L259.70 266.18 L260.00 266.21 L260.30 266.24 L260.60 266.27 L260.90 266.29 L261.20 266.32 L261.50 266.35 L261.80 266.38 L262.10 266.41 L262.40 266.44 L262.70 266.47 L263.00 266.49 L263.30 266.52 L263.60 266.55 L263.90 266.58 L264.20 266.61 L264.50 266.65 L264.80 266.68 L265.10 266.71 L265.40 266.74 L265.70 266.77 L266.00 266.80 L266.30 266.83 L266.60 266.86 L266.90 266.89 L267.20 266.93 L267.50 266.96 L267.80 266.99 L268.10 267.02 L268.40 267.06 L268.70 267.09 L269.00 267.12 L269.30 267.15 L269.60 267.19 L269.90 267.22 L270.20 267.25 L270.50 267.28 L270.80 267.32 L271.10 267.35 L271.40 267.38 L271.70 267.42 L272.00 267.45 L272.30 267.48 L272.60 267.52 L272.90 267.55 L273.20 267.58 L273.50 267.62 L273.80 267.65 L274.10 267.68 L274.40 267.72 L274.70 267.75 L275.00 267.79 L275.30 267.83 L275.60 267.86 L275.90 267.90 L276.20 267.94 L276.50 267.98 L276.80 268.02 L277.10 268.06 L277.40 268.10 L277.70 268.14 L278.00 268.18 L278.30 268.22 L278.60 268.26 L278.90 268.30 L279.20 268.34 L279.50 268.38 L279.80 268.42 L280.10 268.46 L280.40 268.50 L280.70 268.54 L281.00 268.58 L281.30 268.61 L281.60 268.65 L281.90 268.69 L282.20 268.73 L282.50 268.77 L282.80 268.81 L283.10 268.85 L283.40 268.89 L283.70 268.92 L284.00 268.96 L284.30 269.00 L284.60 269.04 L284.90 269.08 L285.20 269.12 L285.50 269.15 L285.80 269.19 L286.10 269.23 L286.40 269.27 L286.70 269.31 L287.00 269.34 L287.30 269.38 L287.60 269.42 L287.90 269.45 L288.20 269.49 L288.50 269.53 L288.80 269.57 L289.10 269.60 L289.40 269.64 L289.70 269.68 L290.00 269.71 L290.30 269.75 L290.60 269.78 L290.90 269.82 L291.20 269.86 L291.50 269.89 L291.80 269.93 L292.10 269.96 L292.40 270.00 L292.70 270.03 L293.00 270.07 L293.30 270.11 L293.60 270.14 L293.90 270.17 L294.20 270.21 L294.50 270.24 L294.80 270.28 L295.10 270.31 L295.40 270.35 L295.70 270.38 L296.00 270.41 L296.30 270.45 L296.60 270.48 L296.90 270.51 L297.20 270.55 L297.50 270.58 L297.80 270.61 L298.10 270.65 L298.40 270.68 L298.70 270.71 L299.00 270.74 L299.30 270.78 L299.60 270.81 L299.90 270.84 L300.20 270.87 L300.50 270.90 L300.80 270.93 L301.10 270.97 L301.40 271.00 L301.70 271.03 L302.00 271.06 L302.30 271.09 L302.60 271.12 L302.90 271.15 L303.20 271.18 L303.50 271.21 L303.80 271.24 L304.10 271.27 L304.40 271.30 L304.70 271.33 L305.00 271.36 L305.30 271.39 L305.60 271.41 L305.90 271.44 L306.20 271.47 L306.50 271.50 L306.80 271.53 L307.10 271.56 L307.40 271.58 L307.70 271.61 L308.00 271.64 L308.30 271.67 L308.60 271.69 L308.90 271.72 L309.20 271.75 L309.50 271.77 L309.80 271.80 L310.10 271.83 L310.40 271.85 L310.70 271.88 L311.00 271.91 L311.30 271.93 L311.60 271.96 L311.90 271.98 L312.20 272.01 L312.50 272.03 L312.80 272.06 L313.10 272.08 L313.40 272.11 L313.70 272.13 L314.00 272.16 L314.30 272.18 L314.60 272.20 L314.90 272.23 L315.20 272.25 L315.50 272.28 L315.80 272.30 L316.10 272.32 L316.40 272.35 L316.70 272.37 L317.00 272.39 L317.30 272.41 L317.60 272.44 L317.90 272.46 L318.20 272.48 L318.50 272.50 L318.80 272.52 L319.10 272.55 L319.40 272.57 L319.70 272.59 L320.00 272.61 L320.30 272.63 L320.60 272.65 L320.90 272.67 L321.20 272.69 L321.50 272.71 L321.80 272.73 L322.10 272.75 L322.40 272.77 L322.70 272.79 L323.00 272.81 L323.30 272.84 L323.60 272.87 L323.90 272.89 L324.20 272.92 L324.50 272.94 L324.80 272.97 L325.10 272.99 L325.40 273.02 L325.70 273.04 L326.00 273.07 L326.30 273.09 L326.60 273.12 L326.90 273.14 L327.20 273.17 L327.50 273.19 L327.80 273.22 L328.10 273.24 L328.40 273.27 L328.70 273.29 L329.00 273.31 L329.30 273.34 L329.60 273.36 L329.90 273.38 L330.20 273.41 L330.50 273.43 L330.80 273.45 L331.10 273.47 L331.40 273.50 L331.70 273.52 L332.00 273.54 L332.30 273.56 L332.60 273.59 L332.90 273.61 L333.20 273.63 L333.50 273.65 L333.80 273.67 L334.10 273.69 L334.40 273.72 L334.70 273.74 L335.00 273.76 L335.30 273.78 L335.60 273.80 L335.90 273.82 L336.20 273.84 L336.50 273.86 L336.80 273.88 L337.10 273.90 L337.40 273.92 L337.70 273.94 L338.00 273.96 L338.30 273.98 L338.60 274.00 L338.90 274.02 L339.20 274.04 L339.50 274.06 L339.80 274.08 L340.10 274.10 L340.40 274.12 L340.70 274.14 L341.00 274.15 L341.30 274.17 L341.60 274.19 L341.90 274.21 L342.20 274.22 L342.50 274.23 L342.80 274.24 L343.10 274.25 L343.40 274.26 L343.70 274.27 L344.00 274.28 L344.30 274.29" stroke="#800080" stroke-width="1.9" stroke-dasharray="1.3 3.6"/>
</g>
<g stroke="#666" stroke-width="0.6" fill="none">
<rect x="60.4" y="21.5" width="281.90000000000003" height="253.8"/>
<line x1="60.4" y1="275.30" x2="64.4" y2="275.30"/><line x1="342.3" y1="275.30" x2="338.3" y2="275.30"/><line x1="60.4" y1="262.61" x2="62.699999999999996" y2="262.61"/><line x1="342.3" y1="262.61" x2="340.0" y2="262.61"/><line x1="60.4" y1="249.92" x2="62.699999999999996" y2="249.92"/><line x1="342.3" y1="249.92" x2="340.0" y2="249.92"/><line x1="60.4" y1="237.23" x2="62.699999999999996" y2="237.23"/><line x1="342.3" y1="237.23" x2="340.0" y2="237.23"/><line x1="60.4" y1="224.54" x2="64.4" y2="224.54"/><line x1="342.3" y1="224.54" x2="338.3" y2="224.54"/><line x1="60.4" y1="211.85" x2="62.699999999999996" y2="211.85"/><line x1="342.3" y1="211.85" x2="340.0" y2="211.85"/><line x1="60.4" y1="199.16" x2="62.699999999999996" y2="199.16"/><line x1="342.3" y1="199.16" x2="340.0" y2="199.16"/><line x1="60.4" y1="186.47" x2="62.699999999999996" y2="186.47"/><line x1="342.3" y1="186.47" x2="340.0" y2="186.47"/><line x1="60.4" y1="173.78" x2="64.4" y2="173.78"/><line x1="342.3" y1="173.78" x2="338.3" y2="173.78"/><line x1="60.4" y1="161.09" x2="62.699999999999996" y2="161.09"/><line x1="342.3" y1="161.09" x2="340.0" y2="161.09"/><line x1="60.4" y1="148.40" x2="62.699999999999996" y2="148.40"/><line x1="342.3" y1="148.40" x2="340.0" y2="148.40"/><line x1="60.4" y1="135.71" x2="62.699999999999996" y2="135.71"/><line x1="342.3" y1="135.71" x2="340.0" y2="135.71"/><line x1="60.4" y1="123.02" x2="64.4" y2="123.02"/><line x1="342.3" y1="123.02" x2="338.3" y2="123.02"/><line x1="60.4" y1="110.33" x2="62.699999999999996" y2="110.33"/><line x1="342.3" y1="110.33" x2="340.0" y2="110.33"/><line x1="60.4" y1="97.64" x2="62.699999999999996" y2="97.64"/><line x1="342.3" y1="97.64" x2="340.0" y2="97.64"/><line x1="60.4" y1="84.95" x2="62.699999999999996" y2="84.95"/><line x1="342.3" y1="84.95" x2="340.0" y2="84.95"/><line x1="60.4" y1="72.26" x2="64.4" y2="72.26"/><line x1="342.3" y1="72.26" x2="338.3" y2="72.26"/><line x1="60.4" y1="59.57" x2="62.699999999999996" y2="59.57"/><line x1="342.3" y1="59.57" x2="340.0" y2="59.57"/><line x1="60.4" y1="46.88" x2="62.699999999999996" y2="46.88"/><line x1="342.3" y1="46.88" x2="340.0" y2="46.88"/><line x1="60.4" y1="34.19" x2="62.699999999999996" y2="34.19"/><line x1="342.3" y1="34.19" x2="340.0" y2="34.19"/><line x1="60.4" y1="21.50" x2="64.4" y2="21.50"/><line x1="342.3" y1="21.50" x2="338.3" y2="21.50"/><line x1="60.40" y1="275.3" x2="60.40" y2="271.3"/><line x1="60.40" y1="21.5" x2="60.40" y2="25.5"/><line x1="172.58" y1="275.3" x2="172.58" y2="271.3"/><line x1="172.58" y1="21.5" x2="172.58" y2="25.5"/><line x1="257.44" y1="275.3" x2="257.44" y2="271.3"/><line x1="257.44" y1="21.5" x2="257.44" y2="25.5"/><line x1="342.30" y1="275.3" x2="342.30" y2="271.3"/><line x1="342.30" y1="21.5" x2="342.30" y2="25.5"/><line x1="110.04" y1="275.3" x2="110.04" y2="273.0"/><line x1="110.04" y1="21.5" x2="110.04" y2="23.8"/><line x1="145.26" y1="275.3" x2="145.26" y2="273.0"/><line x1="145.26" y1="21.5" x2="145.26" y2="23.8"/><line x1="194.90" y1="275.3" x2="194.90" y2="273.0"/><line x1="194.90" y1="21.5" x2="194.90" y2="23.8"/><line x1="213.77" y1="275.3" x2="213.77" y2="273.0"/><line x1="213.77" y1="21.5" x2="213.77" y2="23.8"/><line x1="230.12" y1="275.3" x2="230.12" y2="273.0"/><line x1="230.12" y1="21.5" x2="230.12" y2="23.8"/><line x1="244.54" y1="275.3" x2="244.54" y2="273.0"/><line x1="244.54" y1="21.5" x2="244.54" y2="23.8"/><line x1="307.08" y1="275.3" x2="307.08" y2="273.0"/><line x1="307.08" y1="21.5" x2="307.08" y2="23.8"/>
</g>
<text x="28.6" y="229.04" text-anchor="end">2</text><text x="33.5" y="229.24" text-anchor="middle" style="font-size:10.2px">×</text><text x="39.0" y="229.04">10</text><text x="51.4" y="224.94" style="font-size:8.8px">7</text><text x="28.6" y="178.28" text-anchor="end">4</text><text x="33.5" y="178.48" text-anchor="middle" style="font-size:10.2px">×</text><text x="39.0" y="178.28">10</text><text x="51.4" y="174.18" style="font-size:8.8px">7</text><text x="28.6" y="127.52" text-anchor="end">6</text><text x="33.5" y="127.72" text-anchor="middle" style="font-size:10.2px">×</text><text x="39.0" y="127.52">10</text><text x="51.4" y="123.42" style="font-size:8.8px">7</text><text x="28.6" y="76.76" text-anchor="end">8</text><text x="33.5" y="76.96" text-anchor="middle" style="font-size:10.2px">×</text><text x="39.0" y="76.76">10</text><text x="51.4" y="72.66" style="font-size:8.8px">7</text><text x="28.6" y="26.00" text-anchor="end">1</text><text x="33.5" y="26.20" text-anchor="middle" style="font-size:10.2px">×</text><text x="39.0" y="26.00">10</text><text x="52.0" y="21.90" style="font-size:8.8px">8</text><text x="57.2" y="279.50" text-anchor="end">0</text>
<text x="60.40" y="289.2" text-anchor="middle">2</text><text x="172.58" y="289.2" text-anchor="middle">5</text><text x="257.44" y="289.2" text-anchor="middle">10</text><text x="342.30" y="289.2" text-anchor="middle">20</text>
<g style="font-size:12.4px">
<text x="173.2" y="11.1">j</text><text x="180.3" y="11.1">=</text><text x="191.3" y="11.1">0.0003</text>
<text x="201.6" y="307.3" text-anchor="middle">r/M</text>
<g transform="translate(12.5,199) rotate(-90)">
<text x="0.3" y="0" style="font-size:11.6px">K(r)</text>
<text x="31" y="0">erg</text>
<text x="55.7" y="0">s</text>
<text x="63.2" y="-5.2" style="font-size:8.8px">-1</text>
<text x="74.9" y="0" style="letter-spacing:-0.4px">cm</text>
<text x="93.1" y="-5.2" style="font-size:8.8px">-</text>
<text x="96.7" y="-5.2" style="font-size:8.8px">2</text>
</g>
</g>
<line x1="249.8" y1="55" x2="287.2" y2="55" stroke="#0000ff" stroke-width="2" stroke-linecap="round"/><line x1="249.7" y1="76.3" x2="251.1" y2="76.3" stroke="#ff0000" stroke-width="1.9"/><line x1="257.7" y1="76.3" x2="258.9" y2="76.3" stroke="#ff0000" stroke-width="1.9"/><line x1="261.9" y1="76.3" x2="270.6" y2="76.3" stroke="#ff0000" stroke-width="1.9"/><line x1="277.1" y1="76.3" x2="278.3" y2="76.3" stroke="#ff0000" stroke-width="1.9"/><line x1="281.2" y1="76.3" x2="287.4" y2="76.3" stroke="#ff0000" stroke-width="1.9"/><line x1="250" y1="97.5" x2="256.9" y2="97.5" stroke="#000" stroke-width="2.1"/><line x1="263.3" y1="97.5" x2="270.1" y2="97.5" stroke="#000" stroke-width="2.1"/><line x1="276.7" y1="97.5" x2="283.4" y2="97.5" stroke="#000" stroke-width="2.1"/><line x1="250" y1="118.8" x2="254" y2="118.8" stroke="#0000ff" stroke-width="1.9"/><line x1="255.2" y1="118.8" x2="258" y2="118.8" stroke="#0000ff" stroke-width="1.9"/><line x1="261" y1="118.8" x2="262" y2="118.8" stroke="#0000ff" stroke-width="1.9"/><line x1="265.5" y1="118.8" x2="269.1" y2="118.8" stroke="#0000ff" stroke-width="1.9"/><line x1="270.1" y1="118.8" x2="273.4" y2="118.8" stroke="#0000ff" stroke-width="1.9"/><line x1="276.7" y1="118.8" x2="277.7" y2="118.8" stroke="#0000ff" stroke-width="1.9"/><line x1="281" y1="118.8" x2="283.8" y2="118.8" stroke="#0000ff" stroke-width="1.9"/><line x1="284.8" y1="118.8" x2="287.3" y2="118.8" stroke="#0000ff" stroke-width="1.9"/><line x1="249.75" y1="140.4" x2="251.05" y2="140.4" stroke="#800080" stroke-width="2.0"/><line x1="254.75" y1="140.4" x2="256.05" y2="140.4" stroke="#800080" stroke-width="2.0"/><line x1="259.65000000000003" y1="140.4" x2="260.95" y2="140.4" stroke="#800080" stroke-width="2.0"/><line x1="264.55" y1="140.4" x2="265.84999999999997" y2="140.4" stroke="#800080" stroke-width="2.0"/><line x1="269.45000000000005" y1="140.4" x2="270.75" y2="140.4" stroke="#800080" stroke-width="2.0"/><line x1="274.35" y1="140.4" x2="275.65" y2="140.4" stroke="#800080" stroke-width="2.0"/><line x1="279.25" y1="140.4" x2="280.54999999999995" y2="140.4" stroke="#800080" stroke-width="2.0"/><line x1="284.15000000000003" y1="140.4" x2="285.45" y2="140.4" stroke="#800080" stroke-width="2.0"/><text x="293.8" y="57.80" fill="#000" stroke="#000" stroke-width="0.2" style="font-size:11.4px">a=0.8</text><text x="293.8" y="79.10" fill="#000" stroke="#000" stroke-width="0.2" style="font-size:11.4px">a=0.6</text><text x="293.8" y="100.30" fill="#000" stroke="#000" stroke-width="0.2" style="font-size:11.4px">a=0.4</text><text x="293.8" y="121.60" fill="#000" stroke="#000" stroke-width="0.2" style="font-size:11.4px">a=0.2</text><text x="293.8" y="143.20" fill="#000" stroke="#000" stroke-width="0.2" style="font-size:11.4px">a=0</text>
</svg>
</body></html>
